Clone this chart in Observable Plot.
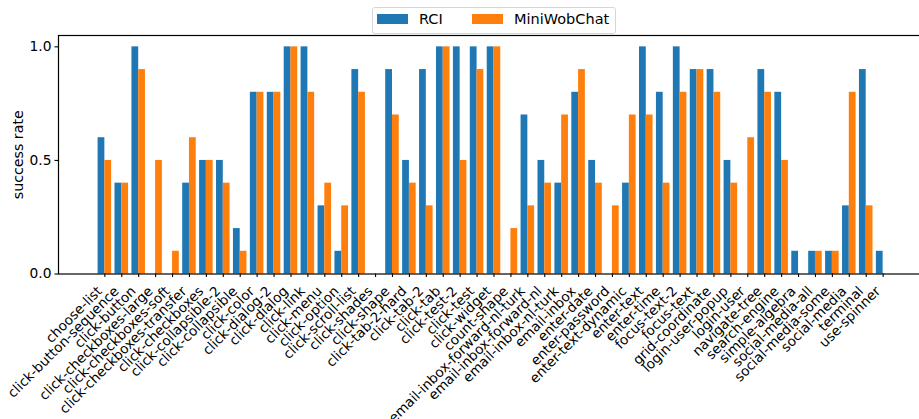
<!DOCTYPE html>
<html><head><meta charset="utf-8">
<script src="https://cdn.jsdelivr.net/npm/d3@7"></script>
<script src="https://cdn.jsdelivr.net/npm/@observablehq/plot@0.6"></script>
<style>
body{margin:0;background:#fff;font-family:"DejaVu Sans",sans-serif;}
#wrap{position:relative;width:919px;height:419px;overflow:hidden;}
#legend{position:absolute;left:372px;top:7px;width:244px;height:27px;border:1px solid #d6d6d6;border-radius:3px;box-sizing:border-box;background:rgba(255,255,255,0.8);z-index:2;}
.sw{position:absolute;top:6px;width:31px;height:10px;}
.lt{position:absolute;top:3px;font-size:14.5px;color:#000;white-space:nowrap;}
</style></head>
<body><div id="wrap"><div id="legend"></div></div>
<script>
const categories = ["choose-list","click-button-sequence","click-button","click-checkboxes-large","click-checkboxes-soft","click-checkboxes-transfer","click-checkboxes","click-collapsible-2","click-collapsible","click-color","click-dialog-2","click-dialog","click-link","click-menu","click-option","click-scroll-list","click-shades","click-shape","click-tab-2-hard","click-tab-2","click-tab","click-test-2","click-test","click-widget","count-shape","email-inbox-forward-nl-turk","email-inbox-forward-nl","email-inbox-nl-turk","email-inbox","enter-date","enter-password","enter-text-dynamic","enter-text","enter-time","focus-text-2","focus-text","grid-coordinate","login-user-popup","login-user","navigate-tree","search-engine","simple-algebra","social-media-all","social-media-some","social-media","terminal","use-spinner"];
const rci  = [0.6,0.4,1.0,0.0,0.0,0.4,0.5,0.5,0.2,0.8,0.8,1.0,1.0,0.3,0.1,0.9,0.0,0.9,0.5,0.9,1.0,1.0,1.0,1.0,0.0,0.7,0.5,0.4,0.8,0.5,0.0,0.4,1.0,0.8,1.0,0.9,0.9,0.5,0.0,0.9,0.8,0.1,0.1,0.1,0.3,0.9,0.1];
const mini = [0.5,0.4,0.9,0.5,0.1,0.6,0.5,0.4,0.1,0.8,0.8,1.0,0.8,0.4,0.3,0.8,0.0,0.7,0.4,0.3,1.0,0.5,0.9,1.0,0.2,0.3,0.4,0.7,0.9,0.4,0.3,0.7,0.7,0.4,0.8,0.9,0.8,0.4,0.6,0.8,0.5,0.0,0.1,0.1,0.8,0.3,0.0];
const seriesNames = ["RCI","MiniWobChat"];
const seriesColors = ["#1f77b4","#ff7f0e"];
const yTicks = [0, 0.5, 1.0];

const n = categories.length;
const idx = d3.range(n);
const barW = 0.4;
const rows = categories.flatMap((c, i) => [
  {i, series: seriesNames[0], v: rci[i], x1: i - barW, x2: i},
  {i, series: seriesNames[1], v: mini[i], x1: i, x2: i + barW}
]);
const pad = ((n - 1) + 2 * barW) * 0.05;
const xDomain = [-barW - pad, n - 1 + barW + pad];

const chart = Plot.plot({
  width: 919, height: 419,
  marginLeft: 58, marginRight: -10, marginTop: 35, marginBottom: 145.5,
  style: {fontFamily: "DejaVu Sans, sans-serif", fontSize: "13.6px", color: "#000", background: "transparent"},
  x: {domain: xDomain, axis: null},
  y: {domain: [0, 1.05], axis: null},
  color: {domain: seriesNames, range: seriesColors},
  marks: [
    Plot.rectY(rows, {x1: "x1", x2: "x2", y1: 0, y2: "v", fill: "series"}),
    Plot.axisX({ticks: idx, tickFormat: () => "", tickSize: 3.5, label: null, stroke: "#000", strokeWidth: 1.1}),
    Plot.text(idx, {x: d => d, text: d => categories[d], frameAnchor: "bottom", rotate: -45, textAnchor: "end", lineAnchor: "bottom", dx: -2, dy: 18, fontSize: 13.6, fill: "#000"}),
    Plot.axisY({ticks: yTicks, tickFormat: d3.format(".1f"), tickSize: 3.5, tickPadding: 3.5, fontSize: 13.8, label: null, stroke: "#000", strokeWidth: 1.1}),
    Plot.frame({stroke: "#000", strokeWidth: 1.2}),
    Plot.text(["success rate"], {frameAnchor: "left", dx: -40, rotate: -90, fontSize: 14.2, textAnchor: "middle"})
  ]
});
document.getElementById("wrap").appendChild(chart);

const legend = document.getElementById("legend");
const swLeft = [4, 99], txtLeft = [46, 141];
seriesNames.forEach((s, k) => {
  const sw = document.createElement("div");
  sw.className = "sw"; sw.style.left = swLeft[k] + "px"; sw.style.background = seriesColors[k];
  const t = document.createElement("div");
  t.className = "lt"; t.style.left = txtLeft[k] + "px"; t.textContent = s;
  legend.appendChild(sw); legend.appendChild(t);
});
</script></body></html>
